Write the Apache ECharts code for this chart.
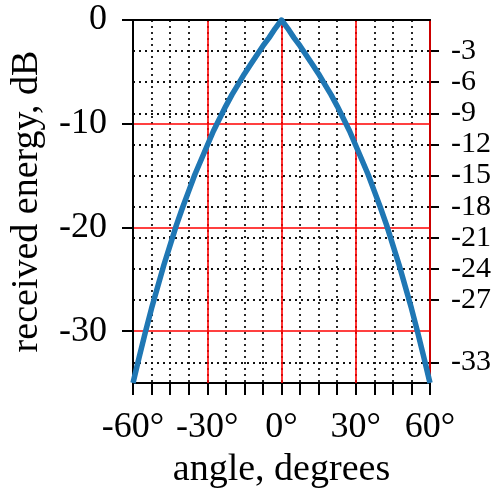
<!DOCTYPE html>
<html>
<head>
<meta charset="utf-8">
<script src="https://cdn.jsdelivr.net/npm/echarts@6/dist/echarts.min.js"></script>
<style>html,body{margin:0;padding:0;background:#fff;}#c{width:495px;height:492px;}</style>
</head>
<body>
<div id="c"></div>
<script>
// angle in degrees and received energy in dB
const angles = [-60, -57.5, -55, -52.5, -50, -47.5, -45, -42.5, -40, -37.5, -35, -32.5, -30, -27.5, -25, -22.5, -20, -17.5, -15, -12.5, -10, -7.5, -5, -2.5,
                0, 2.5, 5, 7.5, 10, 12.5, 15, 17.5, 20, 22.5, 25, 27.5, 30, 32.5, 35, 37.5, 40, 42.5, 45, 47.5, 50, 52.5, 55, 57.5, 60];
const energy = [-35, -32.5, -30.1, -27.8, -25.7, -23.6, -21.7, -19.8, -18.1, -16.5, -14.9, -13.5, -12.1, -10.7, -9.5, -8.3, -7.2, -6.2, -5.2, -4.3, -3.4, -2.5, -1.7, -0.8,
                0, -0.8, -1.7, -2.5, -3.4, -4.3, -5.2, -6.2, -7.2, -8.3, -9.5, -10.7, -12.1, -13.5, -14.9, -16.5, -18.1, -19.8, -21.7, -23.6, -25.7, -27.8, -30.1, -32.5, -35];
const xLabelTicks = [-60, -30, 0, 30, 60];
const leftTicks = [0, -10, -20, -30];
const rightTicks = [-3, -6, -9, -12, -15, -18, -21, -24, -27, -33];
const xTitle = 'angle, degrees';
const yTitle = 'received energy, dB';

const FONT = 'Liberation Serif';
const chart = echarts.init(document.getElementById('c'), null, {renderer: 'canvas'});
const dotted = {color: '#111', width: 1.8, type: [2, 4]};
const red = {color: '#ff0000', width: 1.6, type: 'solid'};

chart.setOption({
  animation: false,
  backgroundColor: '#fff',
  grid: {left: 133, right: 65, top: 20, bottom: 109, containLabel: false, outerBoundsMode: 'none'},
  xAxis: [
    {
      type: 'value', min: -60, max: 60, interval: 7.5, position: 'bottom',
      axisLine: {show: true, onZero: false, lineStyle: {color: '#000', width: 2}},
      axisTick: {show: true, inside: false, length: 12, lineStyle: {color: '#000', width: 2}},
      axisLabel: {customValues: xLabelTicks, margin: 27, fontFamily: FONT, fontSize: 36, color: '#000',
        formatter: v => v + '°'},
      splitLine: {show: true, lineStyle: dotted},
      name: xTitle, nameLocation: 'middle', nameGap: 66,
      nameTextStyle: {fontFamily: FONT, fontSize: 38, color: '#000'}
    },
    {
      type: 'value', min: -60, max: 60, interval: 30, position: 'top', z: 1,
      axisLine: {show: true, onZero: false, lineStyle: {color: '#000', width: 2}},
      axisTick: {show: false}, axisLabel: {show: false},
      splitLine: {show: true, lineStyle: red}
    }
  ],
  yAxis: [
    {
      type: 'value', min: -35, max: 0, position: 'left', z: 1,
      axisLine: {show: true, onZero: false, lineStyle: {color: '#000', width: 2}},
      axisTick: {show: true, inside: false, length: 11, customValues: leftTicks, lineStyle: {color: '#000', width: 2}},
      axisLabel: {customValues: leftTicks, margin: 26, fontFamily: FONT, fontSize: 36, color: '#000'},
      splitLine: {show: true, lineStyle: red},
      name: yTitle, nameLocation: 'middle', nameGap: 87, nameRotate: 90,
      nameTextStyle: {fontFamily: FONT, fontSize: 38, color: '#000'}
    },
    {
      type: 'value', min: -35, max: 0, position: 'right',
      axisLine: {show: true, onZero: false, lineStyle: {color: '#000', width: 2}},
      axisTick: {show: true, inside: false, length: 9, customValues: rightTicks, lineStyle: {color: '#000', width: 2}},
      axisLabel: {customValues: rightTicks, margin: 21, fontFamily: FONT, fontSize: 30, color: '#000'},
      splitLine: {show: true, lineStyle: dotted}
    }
  ],
  series: [{
    type: 'line',
    xAxisIndex: 0, yAxisIndex: 0,
    data: angles.map((a, i) => [a, energy[i]]),
    showSymbol: false, symbol: 'none', smooth: false,
    lineStyle: {color: '#1f77b4', width: 5.5, join: 'round', cap: 'butt'},
    z: 5
  }]
});
</script>
</body>
</html>
